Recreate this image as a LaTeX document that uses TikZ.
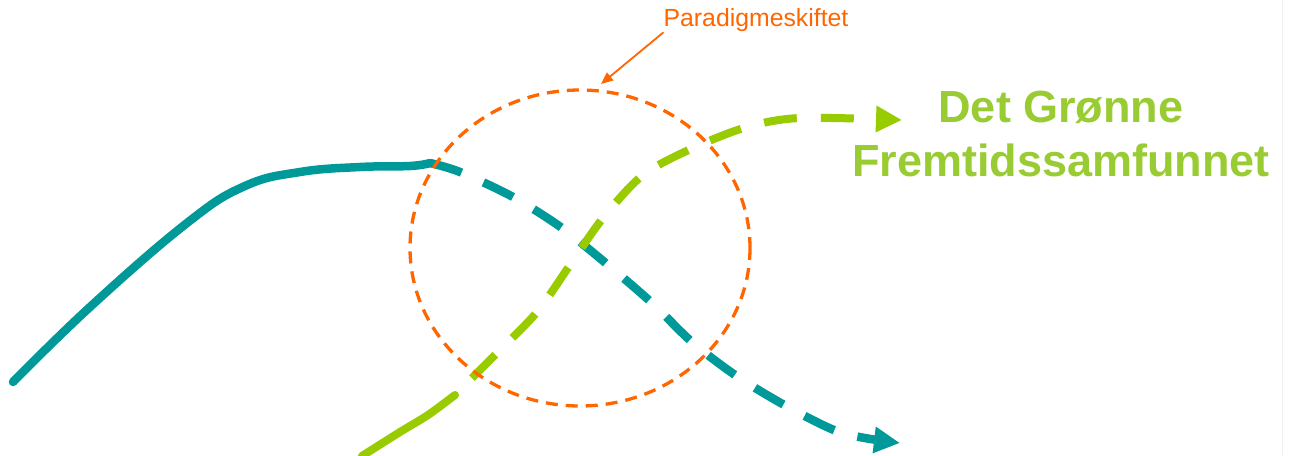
\documentclass[tikz,border=0pt]{standalone}
\usepackage{fontspec}
\usepackage{tikz}
\usetikzlibrary{arrows.meta}
\newfontfamily\arialfont{Liberation Sans}

\begin{document}
\begin{tikzpicture}[x=1pt,y=-1pt,line width=0.4pt]
\definecolor{figteal}{RGB}{0,153,153}
\definecolor{figgreen}{RGB}{153,204,0}
\definecolor{figtext}{RGB}{153,204,51}
\definecolor{figorange}{RGB}{255,102,0}
\definecolor{figedge}{RGB}{240,240,240}
\tikzset{oldpath/.style={draw=figteal,line width=8.5pt},greenpath/.style={draw=figgreen,line width=8pt},gap/.style={dash pattern=on 33pt off 24pt},bigtip/.style={-{Triangle[length=26pt,width=25pt]}},ring/.style={draw=figorange,line width=3.3pt,dash pattern=on 12pt off 8pt},pointer/.style={draw=figorange,line width=1.8pt,-{Triangle[length=12pt,width=10pt]}},note/.style={inner sep=0pt,anchor=base,text=figorange,font=\arialfont\fontsize{24.8}{28}\selectfont},goal/.style={inner sep=0pt,align=center,text=figtext,font=\arialfont\bfseries\fontsize{45}{54}\selectfont}}
\path[fill=white,use as bounding box] (0,0) rectangle (1292,455);
\draw[figedge,line width=1pt] (1282,0) -- (1282,455);
\coordinate (oldstart) at (13,382);
\coordinate (oldbend) at (430,163);
\coordinate (oldend) at (900,443);
\coordinate (greenstart) at (362,456);
\coordinate (greenbreak) at (455,395);
\coordinate (greenend) at (902,120);
\coordinate (ringc) at (580,248);
\coordinate (ringtop) at (601,84);
\node[note] (skiftlabel) at (756,27) {Paradigmeskiftet};
\node[goal] (maal) at (1061,134) {Det Grønne\\Fremtidssamfunnet};
% the old road, solid then broken
\draw[oldpath,line cap=round,line join=round] plot[smooth,tension=0.7] coordinates {(oldstart) (90,307) (187,223) (245,186) (300,172) (360,167) (410,166) (oldbend)};
\draw[oldpath,gap,bigtip] plot[smooth,tension=0.5] coordinates {(oldbend) (460,172) (513,197) (562,228) (608,265) (652,303) (693,343) (738,377) (788,407) (842,433) (oldend)};
% the green road
\draw[greenpath,line cap=round,line join=round] plot[smooth] coordinates {(greenstart) (400,432) (428,415) (greenbreak)};
\draw[greenpath,gap,dash phase=33pt,bigtip] plot[smooth,tension=0.5] coordinates {(greenbreak) (497,353) (537,312) (570,265) (603,218) (643,175) (693,148) (747,127) (800,118) (greenend)};
\draw[ring] (ringc) ellipse [x radius=170,y radius=158];
\draw[pointer] (skiftlabel.south west) -- (ringtop);
\end{tikzpicture}
\end{document}
